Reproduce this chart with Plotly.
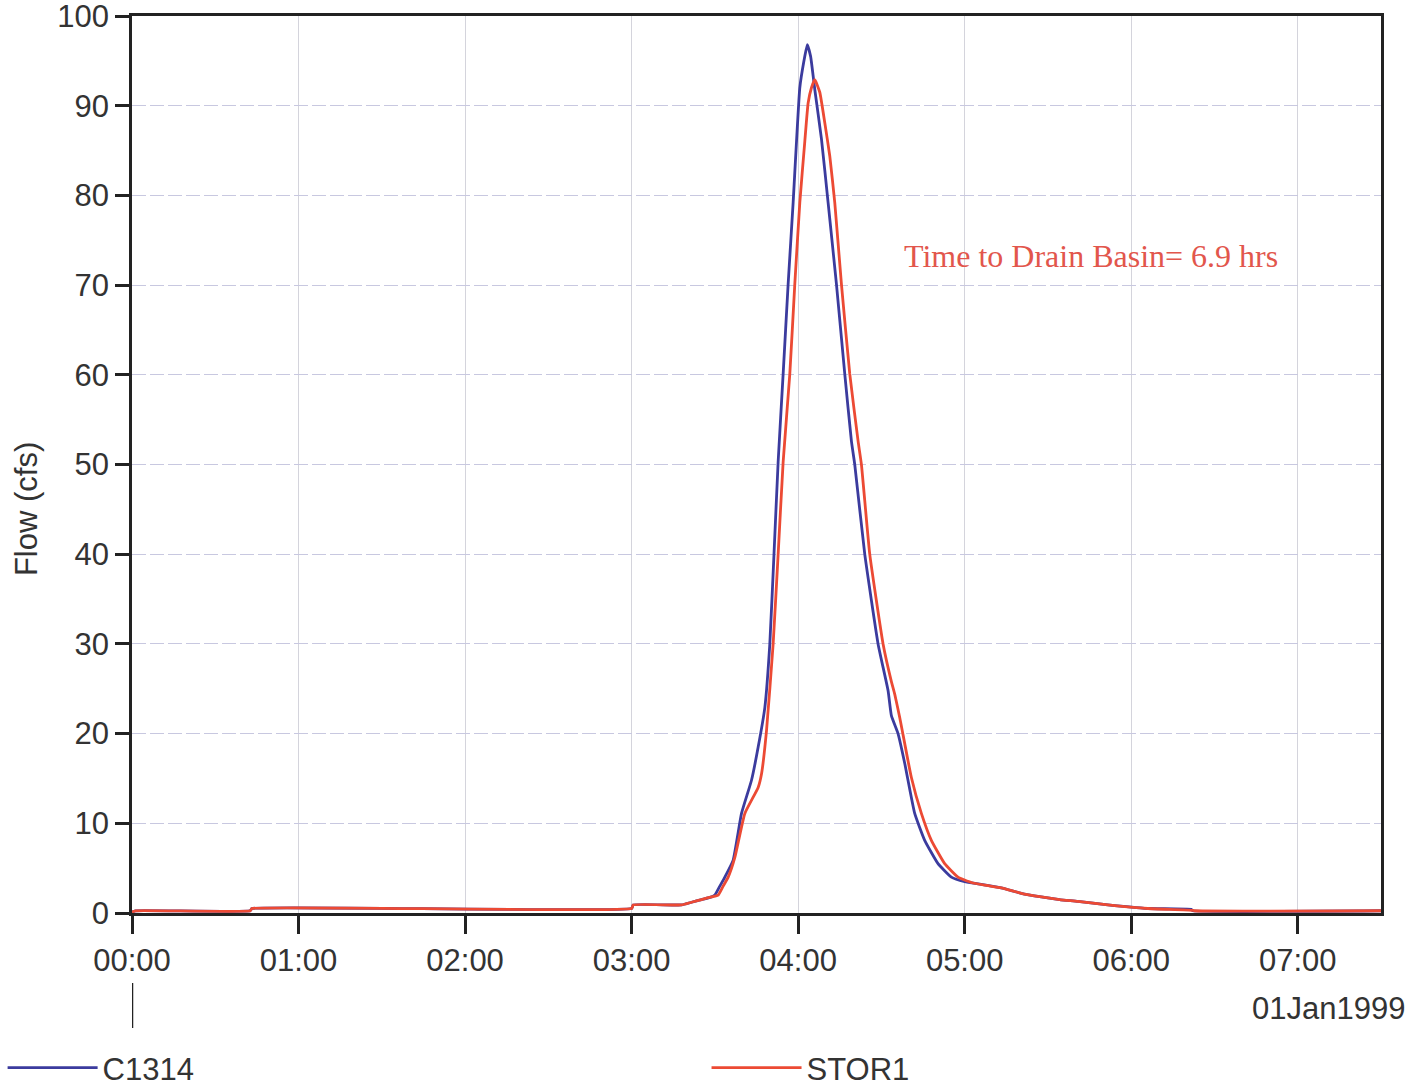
import pandas as pd
import plotly.graph_objects as go

# ---- data (hours after 01Jan1999 00:00, flow in cfs) ----
c1314_hours = [0.0, 0.02, 0.71, 0.72, 3.0, 3.01, 3.30, 3.36, 3.42, 3.48, 3.50, 3.53, 3.56, 3.61,
               3.66, 3.72, 3.76, 3.80, 3.83, 3.855, 3.88, 3.91, 3.94, 3.97, 4.01, 4.035, 4.055,
               4.075, 4.10, 4.14, 4.18, 4.23, 4.28, 4.32, 4.34, 4.40, 4.48, 4.54, 4.56, 4.60,
               4.64, 4.70, 4.76, 4.84, 4.92, 5.00, 5.10, 5.22, 5.34, 5.46, 5.57, 5.68, 5.86,
               6.10, 6.36, 6.37, 7.5]
c1314_flow = [0.1, 0.25, 0.25, 0.5, 0.5, 0.9, 0.9, 1.2, 1.5, 1.8, 2.0, 3.0, 4.0, 5.9,
              11.1, 14.8, 18.5, 22.9, 30.0, 40.0, 50.3, 60.1, 70.1, 79.2, 92.0, 95.0, 96.8,
              95.5, 91.8, 86.3, 79.2, 70.1, 60.1, 52.6, 50.0, 40.0, 30.0, 24.8, 22.0, 20.0,
              16.7, 11.1, 8.1, 5.5, 4.0, 3.5, 3.2, 2.8, 2.2, 1.8, 1.5, 1.3, 0.9,
              0.5, 0.4, 0.25, 0.25]

stor1_hours = [0.0, 0.02, 0.71, 0.72, 3.0, 3.01, 3.30, 3.36, 3.42, 3.48, 3.52, 3.55, 3.58, 3.62,
               3.68, 3.76, 3.78, 3.81, 3.85, 3.88, 3.91, 3.95, 3.98, 4.01, 4.04, 4.06, 4.08,
               4.10, 4.13, 4.16, 4.19, 4.22, 4.26, 4.31, 4.36, 4.38, 4.43, 4.51, 4.56, 4.58,
               4.61, 4.68, 4.74, 4.80, 4.88, 4.96, 5.04, 5.12, 5.22, 5.34, 5.46, 5.57, 5.68,
               5.86, 6.10, 6.37, 6.38, 7.5]
stor1_flow = [0.1, 0.25, 0.25, 0.5, 0.5, 0.9, 0.9, 1.2, 1.5, 1.8, 2.0, 3.0, 4.0, 6.2,
              11.1, 14.0, 15.5, 20.3, 30.0, 40.0, 50.3, 60.1, 70.1, 79.2, 86.0, 90.3, 92.0,
              92.9, 91.5, 88.1, 84.4, 79.2, 70.1, 60.1, 52.6, 50.0, 40.0, 30.0, 25.8, 24.4,
              21.8, 15.1, 11.1, 8.1, 5.5, 4.0, 3.4, 3.1, 2.8, 2.2, 1.8, 1.5, 1.3,
              0.9, 0.5, 0.3, 0.25, 0.25]

y_ticks = [0, 10, 20, 30, 40, 50, 60, 70, 80, 90, 100]
start = pd.Timestamp("1999-01-01 00:00")
x_end_hours = 7.5
annotation_text = "Time to Drain Basin= 6.9 hrs"
date_label = "01Jan1999"
y_title = "Flow (cfs)"


def to_time(hours):
    return [start + pd.Timedelta(hours=h) for h in hours]


BLUE = "#3b3b9e"
RED = "#ec4a34"
TXT = "#333333"
FONT = "Liberation Sans, Arial, sans-serif"
FS = 31
PLOT_H = 1092 - 16 - 179  # plot-area height in px

fig = go.Figure()
fig.add_trace(go.Scatter(x=to_time(c1314_hours), y=c1314_flow, mode="lines", name="C1314",
                         line=dict(color=BLUE, width=2.8, shape="spline", smoothing=0.4),
                         legend="legend"))
fig.add_trace(go.Scatter(x=to_time(stor1_hours), y=stor1_flow, mode="lines", name="STOR1",
                         line=dict(color=RED, width=2.8, shape="spline", smoothing=0.4),
                         legend="legend2"))

legend_common = dict(orientation="h", xanchor="left", yanchor="top", itemwidth=90,
                     font=dict(size=FS, color=TXT), bgcolor="rgba(0,0,0,0)")

fig.update_layout(
    width=1413, height=1092,
    margin=dict(l=132, r=32, t=16, b=179, autoexpand=False),
    plot_bgcolor="white", paper_bgcolor="white",
    font=dict(family=FONT, size=FS, color=TXT),
    showlegend=True,
    legend=dict(x=-0.1036, y=-128 / PLOT_H, **legend_common),
    legend2=dict(x=0.460, y=-128 / PLOT_H, **legend_common),
)

fig.update_xaxes(
    type="date",
    range=[start, start + pd.Timedelta(hours=x_end_hours)],
    tickformat="%H:%M", dtick=3600000, tick0=start,
    ticks="outside", ticklen=18, tickwidth=2.5, tickcolor="#222",
    showline=True, mirror=True, linecolor="#222", linewidth=2.5,
    showgrid=True, gridcolor="#d4d4dc", gridwidth=1,
    tickfont=dict(size=FS, color=TXT),
    zeroline=False,
)
fig.update_yaxes(
    range=[0, 100], tickvals=y_ticks,
    ticks="outside", ticklen=14, tickwidth=2.5, tickcolor="#222",
    showline=True, mirror=True, linecolor="#222", linewidth=2.5,
    showgrid=True, gridcolor="#c8c8e0", gridwidth=1, griddash="14px,4px",
    tickfont=dict(size=FS, color=TXT), ticklabeloverflow="allow",
    zeroline=False,
)

fig.add_annotation(text=y_title, xref="paper", yref="paper", x=-0.084, y=(913 - 509) / PLOT_H,
                   textangle=-90, showarrow=False, xanchor="center", yanchor="middle",
                   font=dict(size=FS, color=TXT))
fig.add_annotation(text=annotation_text, xref="paper", yref="y", x=0.768, y=73.2,
                   showarrow=False, xanchor="center", yanchor="middle",
                   font=dict(family="Liberation Serif, Times New Roman, serif", size=32, color="#e2564c"))
fig.add_annotation(text=date_label, xref="paper", yref="paper", x=1.0208, y=-95 / PLOT_H,
                   showarrow=False, xanchor="right", yanchor="middle",
                   font=dict(size=FS, color=TXT))
fig.add_shape(type="line", xref="x", yref="paper", x0=start, x1=start,
              y0=-70 / PLOT_H, y1=-115 / PLOT_H,
              line=dict(color="#222", width=2.5))

fig.write_html("out.html")
